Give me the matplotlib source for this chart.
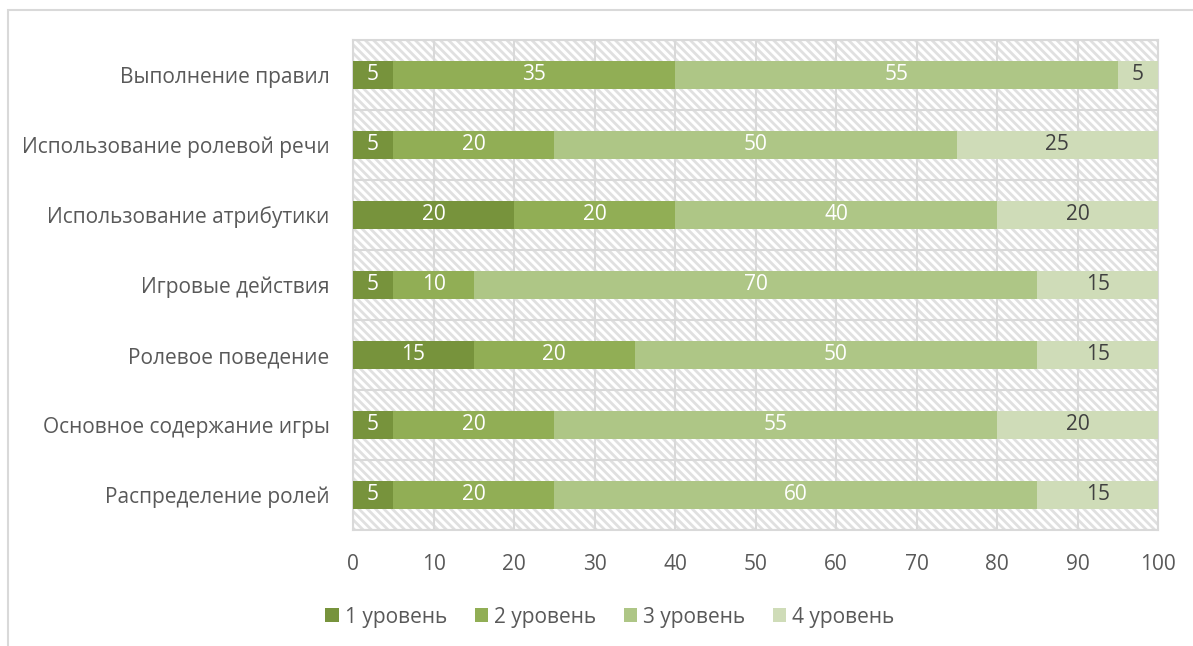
import numpy as np
import matplotlib.pyplot as plt
from matplotlib.patches import Rectangle

plt.rcParams["font.family"] = "Open Sans"
plt.rcParams["hatch.linewidth"] = 2.0

# data: categories listed bottom to top
categories = ["Распределение ролей", "Основное содержание игры", "Ролевое поведение",
              "Игровые действия", "Использование атрибутики", "Использование ролевой речи",
              "Выполнение правил"]
level1 = [5, 5, 15, 5, 20, 5, 5]
level2 = [20, 20, 20, 10, 20, 20, 35]
level3 = [60, 55, 50, 70, 40, 50, 55]
level4 = [15, 20, 15, 15, 20, 25, 5]
series_names = ["1 уровень", "2 уровень", "3 уровень", "4 уровень"]

colors = ["#77933C", "#91AE55", "#AEC686", "#CFDCB8"]
text_colors = ["white", "white", "white", "#404040"]

fig = plt.figure(figsize=(11.93, 6.46), dpi=100)
W, H = 1193, 646
ax = fig.add_axes([353 / W, 1 - 530 / H, (1158 - 353) / W, (530 - 40) / H])

# outer chart border (only top and left edges visible)
fig.patches.append(Rectangle((8 / W, -0.1), 1.2, 1.1 - 10 / H, transform=fig.transFigure,
                             fill=False, edgecolor="#D9D9D9", linewidth=1.5))

# hatched plot area background
ax.add_patch(Rectangle((0, 0), 1, 1, transform=ax.transAxes, facecolor="white",
                       edgecolor="#E0E0E0", hatch="\\\\\\\\", linewidth=0, zorder=0))

y = np.arange(len(categories))
left = np.zeros(len(categories))
for vals, name, c, tc in zip([level1, level2, level3, level4], series_names, colors, text_colors):
    bars = ax.barh(y, vals, left=left, height=0.4, color=c, label=name, zorder=3)
    ax.bar_label(bars, labels=[str(v) for v in vals], label_type="center",
                 color=tc, fontsize=15)
    left += np.array(vals)

ax.set_xlim(0, 100)
ax.set_ylim(-0.5, len(categories) - 0.5)
ax.set_xticks(np.arange(0, 101, 10))
ax.set_yticks(y)
ax.set_yticklabels(categories)
ax.set_yticks(np.arange(-0.5, len(categories), 1), minor=True)
ax.tick_params(axis="both", which="both", length=0, labelsize=15, labelcolor="#595959")
ax.tick_params(axis="x", pad=17)
ax.tick_params(axis="y", pad=17)
ax.grid(axis="x", which="major", color="#D9D9D9", linewidth=1.5, zorder=1)
ax.grid(axis="y", which="minor", color="#D9D9D9", linewidth=1.5, zorder=1)
ax.set_axisbelow(True)
for s in ax.spines.values():
    s.set_color("#D9D9D9")
    s.set_linewidth(1.5)

fig.legend(loc="center", bbox_to_anchor=(610 / W, 1 - 617 / H), ncol=4, frameon=False,
           fontsize=15, labelcolor="#595959", handlelength=0.65, handleheight=0.65,
           handletextpad=0.3, columnspacing=1.3)

fig.savefig("out.png", dpi=100)
